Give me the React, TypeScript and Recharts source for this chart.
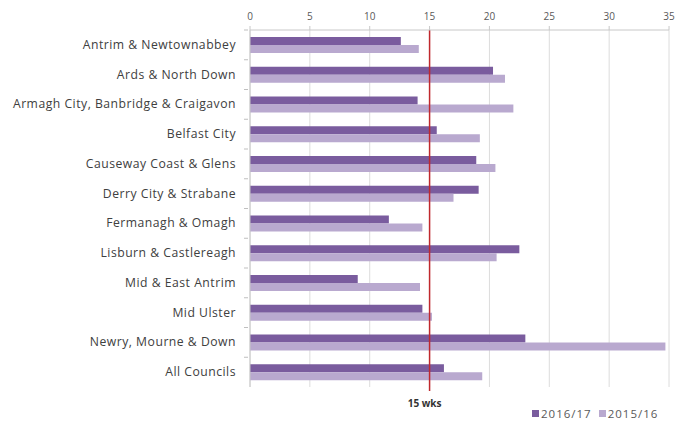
import { Bar, BarChart, CartesianGrid, ReferenceLine, XAxis, YAxis } from "recharts"

const councils = [
  "Antrim & Newtownabbey",
  "Ards & North Down",
  "Armagh City, Banbridge & Craigavon",
  "Belfast City",
  "Causeway Coast & Glens",
  "Derry City & Strabane",
  "Fermanagh & Omagh",
  "Lisburn & Castlereagh",
  "Mid & East Antrim",
  "Mid Ulster",
  "Newry, Mourne & Down",
  "All Councils",
]
const weeks1617 = [12.6, 20.3, 14.0, 15.6, 18.9, 19.1, 11.6, 22.5, 9.0, 14.4, 23.0, 16.2]
const weeks1516 = [14.1, 21.3, 22.0, 19.2, 20.5, 17.0, 14.4, 20.6, 14.2, 15.2, 34.7, 19.4]
const xTicks = [0, 5, 10, 15, 20, 25, 30, 35]
const target = 15

const data = councils.map((name, i) => ({ name, y1617: weeks1617[i], y1516: weeks1516[i] }))

const series = [
  { key: "y1617", label: "2016/17", color: "#7a5c9e" },
  { key: "y1516", label: "2015/16", color: "#b9a9cf" },
]

const FONT = "'Open Sans', 'Noto Sans', sans-serif"

function CouncilTick(props: any) {
  const { x, y, payload } = props
  const half = payload.offset || 14.8
  return (
    <g>
      <line x1={x + 8} x2={x + 12} y1={y - half} y2={y - half} stroke="#bfbfbf" />
      <text x={x} y={y} dy={4} textAnchor="end" fontSize={12.2} letterSpacing={0.5} fill="#404040" fontFamily={FONT}>
        {payload.value}
      </text>
    </g>
  )
}

function TargetLabel(props: any) {
  const { viewBox } = props
  const { x, y, height } = viewBox
  return (
    <g>
      <line x1={x} x2={x} y1={y + height} y2={y + height + 4} stroke="#c0282d" strokeWidth={1.5} />
      <text x={x - 5} y={y + height + 20} textAnchor="middle" fontSize={10} fontWeight="bold" fill="#333" fontFamily={FONT}>
        15 wks
      </text>
    </g>
  )
}

export default function App() {
  return (
    <div style={{ position: "absolute", left: 0, top: 0, width: 675, height: 424, background: "#fff" }}>
      <BarChart
        width={675}
        height={424}
        data={data}
        layout="vertical"
        margin={{ top: 0, right: 6, bottom: 37, left: 0 }}
        barSize={8}
        barGap={0}
      >
        <CartesianGrid horizontal={false} stroke="#dcdcdc" />
        <XAxis
          type="number"
          orientation="top"
          domain={[0, 35]}
          ticks={xTicks}
          height={30}
          stroke="#c8c8c8"
          tickSize={4}
          tickMargin={6}
          tick={{ fontSize: 10, fill: "#595959", fontFamily: FONT }}
        />
        <YAxis
          type="category"
          dataKey="name"
          width={250}
          stroke="#c8c8c8"
          tickLine={false}
          tick={<CouncilTick />}
          tickMargin={8}
          interval={0}
        />
        {series.map((s) => (
          <Bar key={s.key} dataKey={s.key} name={s.label} fill={s.color} isAnimationActive={false} />
        ))}
        <ReferenceLine x={target} stroke="#c0282d" strokeWidth={1.5} label={<TargetLabel />} />
      </BarChart>
      <div
        style={{
          position: "absolute",
          left: 532,
          top: 406,
          display: "flex",
          gap: 7,
          fontSize: 11.5,
          letterSpacing: 1,
          fontFamily: FONT,
          color: "#595959",
        }}
      >
        {series.map((s) => (
          <span key={s.key} style={{ display: "flex", alignItems: "center", gap: 2 }}>
            <span style={{ width: 7, height: 7, background: s.color, display: "inline-block" }} />
            {s.label}
          </span>
        ))}
      </div>
    </div>
  )
}
